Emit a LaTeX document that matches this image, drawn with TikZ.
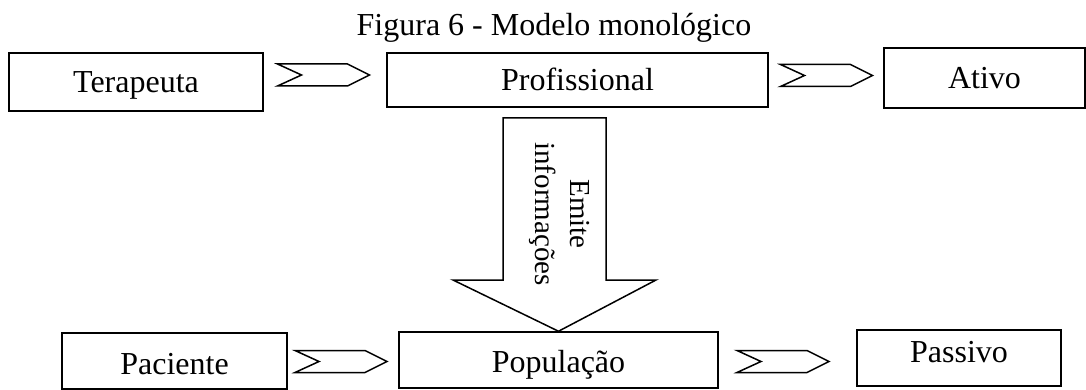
\documentclass[tikz,border=0pt]{standalone}
\usepackage{fontspec}
\setmainfont{Liberation Serif}
\begin{document}
\begin{tikzpicture}[x=1pt,y=-1pt,
  box/.style={draw, line width=1.5pt, inner sep=0pt, text height=21pt, text depth=0pt, font=\fontsize{32}{38}\selectfont},
  blk/.style={draw, line width=1.5pt, fill=white, line join=miter},
  chev/.pic={\draw[blk] (-46,-11) -- (24,-11) -- (46,0) -- (24,11) -- (-46,11) -- (-22,0) -- cycle;}]
\useasboundingbox (0,0) rectangle (1086,390);
\node[font=\fontsize{32}{38}\selectfont, anchor=base] (title) at (554,36) {Figura 6 - Modelo monológico};
% top row
\node[box, minimum width=254pt, minimum height=58pt] (ter) at (136,82) {Terapeuta};
\node[box, minimum width=381pt, minimum height=54pt] (prof) at (577.5,80) {Profissional};
\node[box, minimum width=201pt, minimum height=60pt] (ati) at (984.5,78) {Ativo};
% bottom row
\node[box, text height=26pt, minimum width=225pt, minimum height=56pt] (pac) at (174.5,361) {Paciente};
\node[box, text height=24pt, minimum width=319pt, minimum height=56pt] (pop) at (558.5,360) {População};
\node[box, text depth=12pt, minimum width=204pt, minimum height=56pt] (pas) at (959,358) {Passivo};
% chevrons
\pic at (323.5,75) {chev};
\pic at (826.5,75.5) {chev};
\pic at (341,361.5) {chev};
\pic at (783,361.5) {chev};
% big down arrow
\draw[blk] (503,118) -- (606,118) -- (606,280) -- (656,280) -- (pop.north) -- (453,280) -- (503,280) -- cycle;
\node[rotate=-90, align=center, font=\fontsize{29}{35}\selectfont] (emit) at (560,214) {Emite\\informações};
\end{tikzpicture}
\end{document}
